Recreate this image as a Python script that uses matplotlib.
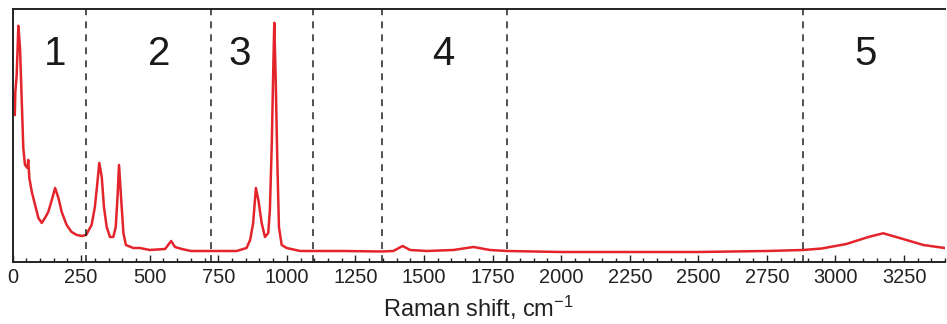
import matplotlib
matplotlib.use("Agg")
import matplotlib.pyplot as plt
from matplotlib.ticker import MultipleLocator

plt.rcParams["font.family"] = ["Liberation Sans", "DejaVu Sans"]
plt.rcParams["mathtext.fontset"] = "custom"
plt.rcParams["mathtext.rm"] = "Liberation Sans"
plt.rcParams["mathtext.it"] = "Liberation Sans:italic"

# spectrum (Raman shift cm-1, arbitrary intensity)
shift = [8, 10, 15, 21, 27, 33, 39, 45, 54, 57, 61, 70, 82, 94, 106, 118, 130,
         143, 155, 167, 179, 197, 215, 234, 252, 268, 288, 300, 309, 316, 325,
         333, 343, 355, 367, 376, 382, 388, 396, 404, 413, 440, 464, 500, 556,
         578, 592, 617, 650, 700, 817, 853, 866, 877, 887, 896, 908, 920, 932,
         938, 945, 951, 954, 959, 965, 971, 981, 999, 1048, 1200, 1346, 1388,
         1422, 1449, 1510, 1607, 1680, 1740, 1802, 2000, 2250, 2500, 2750,
         2883, 2950, 3040, 3120, 3174, 3240, 3320, 3405]
intensity = [147, 170, 187, 236, 214, 164, 114, 97, 94, 102, 84, 70, 57, 44,
             39, 44, 50, 62, 74, 64, 50, 37, 30, 27, 26, 27, 37, 55, 79, 99, 85,
             55, 35, 25, 25, 35, 62, 97, 62, 29, 17, 14, 14, 12, 13, 21, 15, 13,
             11, 11, 11, 14, 22, 39, 74, 62, 39, 25, 29, 52, 119, 202, 239, 185,
             102, 35, 17, 14, 11, 11, 10.5, 11, 16, 12, 11, 12, 15, 12, 11, 10,
             10, 10, 11, 12, 13.5, 18, 25, 28.7, 23.5, 17, 13.7]

region_bounds = [268, 723, 1096, 1346, 1802, 2883]
region_names = ["1", "2", "3", "4", "5"]
region_label_x = [155, 535, 827, 1570, 3108]

fig = plt.figure(figsize=(9.47, 3.24), dpi=100)
ax = fig.add_axes([12.6 / 947, 62 / 324, 932.6 / 947, 252.7 / 324])

ax.plot(shift, intensity, color="#e3242b", lw=1.8, solid_joinstyle="round")

for b in region_bounds:
    ax.axvline(b, color="#222222", lw=1.1, linestyle=(0, (4.5, 4)))

for name, lx in zip(region_names, region_label_x):
    ax.text(lx, 208, name, fontsize=29, ha="center", va="center", color="#1a1a1a")

ax.set_xlim(0, 3400)
ax.set_ylim(0, 252.5)
ax.set_yticks([])
ax.xaxis.set_minor_locator(MultipleLocator(50))
ax.tick_params(axis="x", which="major", direction="in", length=5, width=1,
               labelsize=14.4, pad=4.5, colors="#222222")
ax.tick_params(axis="x", which="minor", direction="in", length=3, width=1,
               colors="#222222")
ax.set_xticks(range(0, 3251, 250))
ax.spines["right"].set_visible(False)
for s in ["left", "top", "bottom"]:
    ax.spines[s].set_linewidth(1.4)
    ax.spines[s].set_color("#222222")

ax.set_xlabel(r"Raman shift, cm$^{\mathrm{-1}}$", fontsize=17, labelpad=5,
              color="#222222")

fig.savefig("out.png", dpi=100)
